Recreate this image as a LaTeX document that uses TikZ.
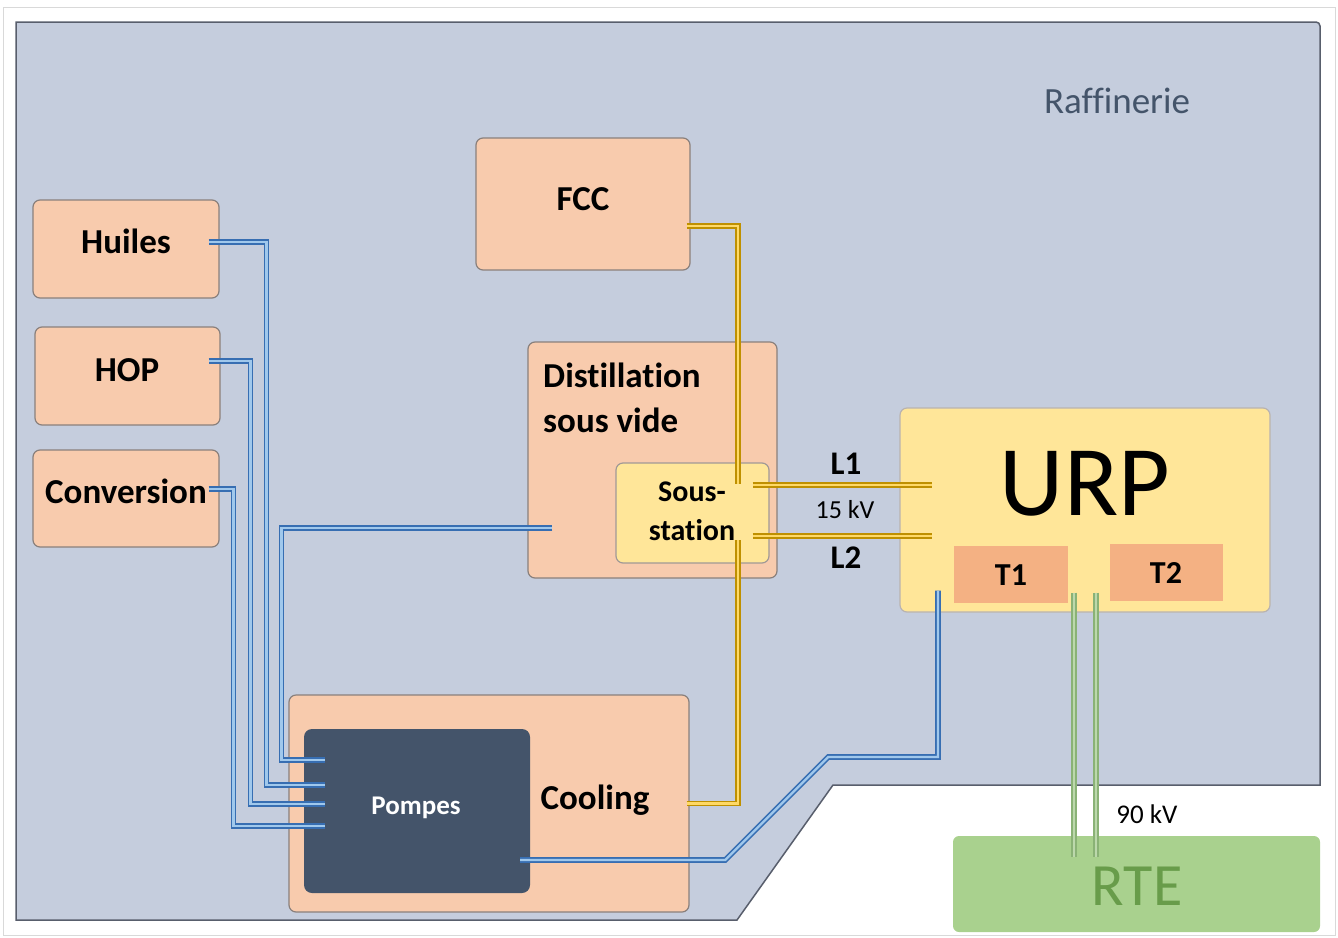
\documentclass[tikz,border=0pt]{standalone}
\usepackage{fontspec}
\setmainfont{Carlito}[Ligatures=NoCommon]
\usetikzlibrary{calc}

\definecolor{zone}{RGB}{197,205,221}
\definecolor{zoneedge}{RGB}{88,94,108}
\definecolor{unit}{RGB}{248,203,173}
\definecolor{unitedge}{RGB}{138,128,124}
\definecolor{pale}{RGB}{255,230,153}
\definecolor{salmon}{RGB}{244,177,131}
\definecolor{slate}{RGB}{68,84,106}
\definecolor{grass}{RGB}{169,209,142}
\definecolor{grasstext}{RGB}{104,156,74}
\definecolor{bluedark}{RGB}{55,110,178}
\definecolor{bluelight}{RGB}{160,200,236}
\definecolor{golddark}{RGB}{191,144,0}
\definecolor{goldlight}{RGB}{255,217,102}
\definecolor{greendark}{RGB}{138,178,118}
\definecolor{greenlight}{RGB}{188,216,172}

\begin{document}
\begin{tikzpicture}[x=1pt,y=-1pt,
  unitbox/.style={draw=unitedge, fill=unit, rounded corners=7pt, line width=1.2pt, inner sep=0pt},
  palebox/.style={draw=unitedge!80, fill=pale, rounded corners=7pt, line width=1.2pt, inner sep=0pt},
  flatbox/.style={fill=salmon, inner sep=0pt},
  txt/.style={inner sep=0pt, anchor=base},
  bigbold/.style={txt, font=\fontsize{35}{42}\selectfont\bfseries},
  midbold/.style={txt, font=\fontsize{30}{36}\selectfont\bfseries},
  bluepipe/.style={draw=bluedark, double=bluelight, double distance=2.4pt, line width=1.6pt},
  goldpipe/.style={draw=golddark, double=goldlight, double distance=2.4pt, line width=1.6pt},
  greenpipe/.style={draw=greendark, double=greenlight, double distance=2.4pt, line width=1.6pt}]

\useasboundingbox (0,0) rectangle (1338,937);
\draw[gray!30, line width=1pt] (3,7) rectangle (1335,935);

% refinery site outline
\draw[fill=zone, draw=zoneedge, line width=1.5pt]
  (16,22) -- (1316,22) to[out=0,in=90] (1320,26) -- (1320,785) -- (833,785) -- (737,920) -- (16,920) -- cycle;
\node[txt, font=\fontsize{37}{44}\selectfont, text=slate] (raffT) at (1117,113) {Raffinerie};

% process units
\node[unitbox, minimum width=186pt, minimum height=98pt] (huiles) at (126,249) {};
\node[unitbox, minimum width=185pt, minimum height=98pt] (hop) at (127.5,376) {};
\node[unitbox, minimum width=186pt, minimum height=97pt] (conv) at (126,498.5) {};
\node[unitbox, minimum width=214pt, minimum height=132pt] (fcc) at (583,204) {};
\node[unitbox, minimum width=249pt, minimum height=236pt] (dist) at (652.5,460) {};
\node[palebox, minimum width=153pt, minimum height=100pt] (sous) at (692.5,513) {};
\node[unitbox, minimum width=400pt, minimum height=217pt] (cool) at (489,803.5) {};
\node[fill=slate, rounded corners=8pt, inner sep=0pt, minimum width=226pt, minimum height=164pt] (pompes) at (417,811) {};

% power plant and grid
\node[palebox, draw=unitedge!60, minimum width=370pt, minimum height=204pt] (urp) at (1085,510) {};
\node[flatbox, minimum width=114pt, minimum height=57pt] (t1) at (1011,574.5) {};
\node[flatbox, minimum width=113pt, minimum height=57pt] (t2) at (1166.5,572.5) {};
\node[fill=grass, rounded corners=6pt, inner sep=0pt, minimum width=367pt, minimum height=96pt] (rte) at (1136.5,884) {};

% labels
\node[bigbold] (huilesT) at (126,253) {Huiles};
\node[bigbold] (hopT) at (127,381) {HOP};
\node[bigbold] (convT) at (126,503) {Conversion};
\node[bigbold] (fccT) at (583,210) {FCC};
\node[bigbold, anchor=base west] (distT1) at (543,387) {Distillation};
\node[bigbold, anchor=base west] (distT2) at (543,432) {sous vide};
\node[midbold] (sousT1) at (692,501) {Sous-};
\node[midbold] (sousT2) at (692,540) {station};
\node[bigbold] (coolT) at (595,809) {Cooling};
\node[txt, font=\fontsize{27}{32}\selectfont\bfseries, text=white] (pompesT) at (416,814) {Pompes};
\node[txt, font=\fontsize{100}{110}\selectfont] (urpT) at (1085,515) {URP};
\node[txt, font=\fontsize{32}{38}\selectfont\bfseries] (t1T) at (1011,585) {T1};
\node[txt, font=\fontsize{32}{38}\selectfont\bfseries] (t2T) at (1166,583) {T2};
\node[txt, font=\fontsize{60}{70}\selectfont, text=grasstext] (rteT) at (1137,905) {RTE};
\node[txt, font=\fontsize{33}{40}\selectfont\bfseries] (l1T) at (846,474) {L1};
\node[txt, font=\fontsize{26}{31}\selectfont] (kv15T) at (845,518) {15 kV};
\node[txt, font=\fontsize{33}{40}\selectfont\bfseries] (l2T) at (846,568) {L2};
\node[txt, font=\fontsize{27}{32}\selectfont] (kv90T) at (1147,823) {90 kV};

% cooling water feeds to the pumps
\draw[bluepipe] ($(huiles.east)+(-11,-7)$) -- ++(58,0) |- ($(pompes.west)+(21,-26)$);
\draw[bluepipe] ($(hop.east)+(-12,-15)$) -- ++(42,0) |- ($(pompes.west)+(21,-7)$);
\draw[bluepipe] ($(conv.east)+(-11,-9.5)$) -- ++(25,0) |- ($(pompes.west)+(21,15)$);
\draw[bluepipe] ($(dist.west)+(25,68)$) -- ++(-271,0) |- ($(pompes.west)+(21,-51)$);
\draw[bluepipe] ($(pompes.east)+(-10,49)$) -- ++(205,0) -- ++(103,-103) -| ($(urp.south)+(-147,-22)$);

% 15 kV distribution
\draw[goldpipe] ($(fcc.east)+(-4,22)$) -| ($(sous.north)+(45.5,22)$);
\draw[goldpipe] ($(cool.east)+(-3,0)$) -| ($(sous.south)+(45.5,-24)$);
\draw[goldpipe] ($(sous.east)+(-17,-28)$) -- ($(urp.west)+(33,-25)$);
\draw[goldpipe] ($(sous.east)+(-17,23)$) -- ($(urp.west)+(33,26)$);

% 90 kV grid connection
\draw[greenpipe] ($(urp.south)+(-11,-20)$) -- ($(rte.north)+(-62.5,21)$);
\draw[greenpipe] ($(urp.south)+(11,-20)$) -- ($(rte.north)+(-40.5,21)$);
\end{tikzpicture}
\end{document}
